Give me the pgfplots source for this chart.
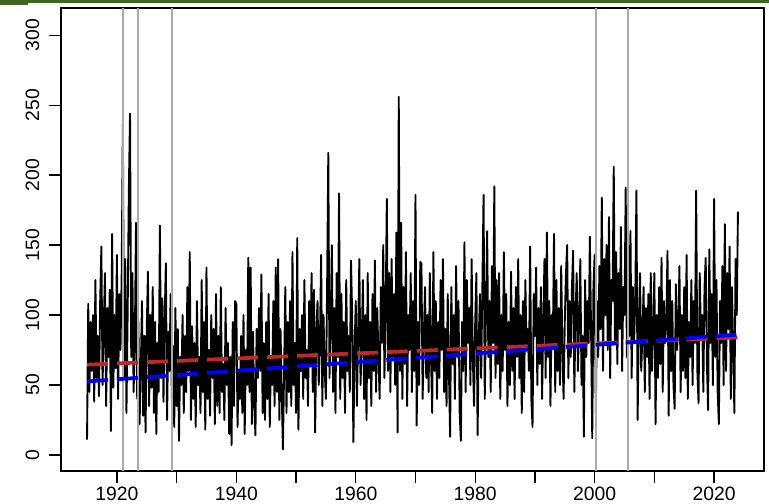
\documentclass[border=0pt]{standalone}
\usepackage{pgfplots}
\pgfplotsset{compat=1.18}
\usepackage{fontspec}
\setmainfont{Liberation Sans}
\definecolor{trendred}{RGB}{190,40,40}
\definecolor{trendblue}{RGB}{0,0,255}
\definecolor{vgrey}{RGB}{170,170,170}
\definecolor{slidegreen}{RGB}{62,102,32}
\begin{document}
\begin{tikzpicture}
\begin{axis}[
  scale only axis, width=527.25pt, height=347.25pt,
  xmin=1910.64, xmax=2028.36, ymin=-11.5, ymax=319.5,
  axis line style={line width=1pt},
  xtick={1920,1930,...,2020},
  xticklabels={1920,,1940,,1960,,1980,,2000,,2020},
  ytick={0,50,...,300},
  yticklabels={0,50,100,150,200,250,300},
  tick align=outside, major tick length=9pt,
  xtick pos=bottom, ytick pos=left,
  tick style={black, line width=1pt},
  ticklabel style={font=\fontsize{14.5}{16}\selectfont, inner sep=2.5pt},
  yticklabel style={rotate=90, anchor=south, inner ysep=7pt},
  clip=true,
]
\addplot[black, line width=1.4pt, line join=round] coordinates {
(1915.0,11)(1915.2,108)(1915.4,45)(1915.6,95)(1915.8,60)
(1916.0,100)(1916.2,38)(1916.4,125)(1916.6,55)(1916.8,85)
(1917.0,42)(1917.2,110)(1917.4,149)(1917.6,50)(1917.8,92)
(1918.0,130)(1918.2,35)(1918.4,105)(1918.6,70)(1918.8,118)
(1919.0,17)(1919.2,158)(1919.4,48)(1919.6,100)(1919.8,62)
(1920.0,143)(1920.2,40)(1920.4,115)(1920.6,75)(1920.8,128)
(1921.0,237)(1921.2,55)(1921.4,140)(1921.6,30)(1921.8,100)
(1922.0,189)(1922.2,244)(1922.4,70)(1922.6,130)(1922.8,45)
(1923.0,80)(1923.2,166)(1923.4,40)(1923.6,95)(1923.8,22)
(1924.0,60)(1924.2,110)(1924.4,28)(1924.6,85)(1924.8,16)
(1925.0,90)(1925.2,131)(1925.4,35)(1925.6,100)(1925.8,48)
(1926.0,120)(1926.2,30)(1926.4,95)(1926.6,15)(1926.8,80)
(1927.0,45)(1927.2,164)(1927.4,55)(1927.6,112)(1927.8,38)
(1928.0,98)(1928.2,137)(1928.4,25)(1928.6,88)(1928.8,60)
(1929.0,115)(1929.2,40)(1929.4,78)(1929.6,20)(1929.8,105)
(1930.0,35)(1930.2,90)(1930.4,10)(1930.6,70)(1930.8,50)
(1931.0,100)(1931.2,30)(1931.4,85)(1931.6,45)(1931.8,120)
(1932.0,60)(1932.2,145)(1932.4,25)(1932.6,92)(1932.8,40)
(1933.0,80)(1933.2,20)(1933.4,110)(1933.6,50)(1933.8,70)
(1934.0,30)(1934.2,125)(1934.4,45)(1934.6,95)(1934.8,18)
(1935.0,134)(1935.2,40)(1935.4,75)(1935.6,28)(1935.8,100)
(1936.0,55)(1936.2,90)(1936.4,22)(1936.6,115)(1936.8,35)
(1937.0,85)(1937.2,30)(1937.4,120)(1937.6,45)(1937.8,65)
(1938.0,25)(1938.2,105)(1938.4,50)(1938.6,80)(1938.8,15)
(1939.0,70)(1939.2,7)(1939.4,95)(1939.6,35)(1939.8,110)
(1940.0,108)(1940.2,20)(1940.4,60)(1940.6,40)(1940.8,85)
(1941.0,30)(1941.2,100)(1941.4,15)(1941.6,75)(1941.8,50)
(1942.0,141)(1942.2,45)(1942.4,134)(1942.6,22)(1942.8,88)
(1943.0,35)(1943.2,14)(1943.4,90)(1943.6,55)(1943.8,105)
(1944.0,60)(1944.2,129)(1944.4,30)(1944.6,80)(1944.8,25)
(1945.0,95)(1945.2,40)(1945.4,115)(1945.6,20)(1945.8,70)
(1946.0,50)(1946.2,110)(1946.4,35)(1946.6,134)(1946.8,45)
(1947.0,140)(1947.2,25)(1947.4,90)(1947.6,45)(1947.8,4)
(1948.0,60)(1948.2,120)(1948.4,30)(1948.6,95)(1948.8,45)
(1949.0,110)(1949.2,35)(1949.4,145)(1949.6,50)(1949.8,80)
(1950.0,30)(1950.2,155)(1950.4,18)(1950.6,90)(1950.8,60)
(1951.0,100)(1951.2,40)(1951.4,125)(1951.6,55)(1951.8,75)
(1952.0,35)(1952.2,110)(1952.4,65)(1952.6,130)(1952.8,45)
(1953.0,118)(1953.2,16)(1953.4,90)(1953.6,110)(1953.8,50)
(1954.0,80)(1954.2,143)(1954.4,35)(1954.6,100)(1954.8,60)
(1955.0,40)(1955.2,120)(1955.4,216)(1955.6,55)(1955.8,95)
(1956.0,150)(1956.2,45)(1956.4,105)(1956.6,30)(1956.8,130)
(1957.0,70)(1957.2,187)(1957.4,40)(1957.6,115)(1957.8,55)
(1958.0,95)(1958.2,30)(1958.4,125)(1958.6,60)(1958.8,85)
(1959.0,45)(1959.2,139)(1959.4,100)(1959.6,9)(1959.8,75)
(1960.0,110)(1960.2,35)(1960.4,90)(1960.6,140)(1960.8,50)
(1961.0,80)(1961.2,125)(1961.4,40)(1961.6,100)(1961.8,25)
(1962.0,130)(1962.2,55)(1962.4,95)(1962.6,35)(1962.8,115)
(1963.0,60)(1963.2,139)(1963.4,45)(1963.6,105)(1963.8,70)
(1964.0,40)(1964.2,120)(1964.4,80)(1964.6,150)(1964.8,55)
(1965.0,100)(1965.2,183)(1965.4,60)(1965.6,130)(1965.8,45)
(1966.0,140)(1966.2,70)(1966.4,115)(1966.6,50)(1966.8,159)
(1967.0,16)(1967.2,256)(1967.4,60)(1967.6,166)(1967.8,40)
(1968.0,120)(1968.2,65)(1968.4,145)(1968.6,35)(1968.8,100)
(1969.0,75)(1969.2,130)(1969.4,45)(1969.6,110)(1969.8,60)
(1970.0,186)(1970.2,21)(1970.4,95)(1970.6,50)(1970.8,138)
(1971.0,137)(1971.2,40)(1971.4,85)(1971.6,120)(1971.8,55)
(1972.0,100)(1972.2,45)(1972.4,130)(1972.6,70)(1972.8,30)
(1973.0,145)(1973.2,60)(1973.4,110)(1973.6,40)(1973.8,95)
(1974.0,55)(1974.2,125)(1974.4,75)(1974.6,140)(1974.8,45)
(1975.0,90)(1975.2,35)(1975.4,115)(1975.6,60)(1975.8,13)
(1976.0,120)(1976.2,65)(1976.4,100)(1976.6,40)(1976.8,135)
(1977.0,70)(1977.2,110)(1977.4,30)(1977.6,10)(1977.8,95)
(1978.0,60)(1978.2,152)(1978.4,45)(1978.6,125)(1978.8,80)
(1979.0,105)(1979.2,50)(1979.4,140)(1979.6,70)(1979.8,35)
(1980.0,95)(1980.2,130)(1980.4,14)(1980.6,85)(1980.8,115)
(1981.0,55)(1981.2,120)(1981.4,186)(1981.6,40)(1981.8,100)
(1982.0,160)(1982.2,70)(1982.4,110)(1982.6,45)(1982.8,135)
(1983.0,80)(1983.2,192)(1983.4,55)(1983.6,125)(1983.8,65)
(1984.0,130)(1984.2,40)(1984.4,100)(1984.6,60)(1984.8,145)
(1985.0,75)(1985.2,115)(1985.4,35)(1985.6,95)(1985.8,50)
(1986.0,131)(1986.2,60)(1986.4,105)(1986.6,40)(1986.8,120)
(1987.0,70)(1987.2,140)(1987.4,55)(1987.6,100)(1987.8,30)
(1988.0,110)(1988.2,45)(1988.4,125)(1988.6,75)(1988.8,90)
(1989.0,60)(1989.2,149)(1989.4,40)(1989.6,20)(1989.8,115)
(1990.0,85)(1990.2,134)(1990.4,50)(1990.6,105)(1990.8,65)
(1991.0,120)(1991.2,40)(1991.4,95)(1991.6,140)(1991.8,55)
(1992.0,159)(1992.2,70)(1992.4,110)(1992.6,35)(1992.8,100)
(1993.0,80)(1993.2,158)(1993.4,45)(1993.6,125)(1993.8,60)
(1994.0,105)(1994.2,50)(1994.4,135)(1994.6,75)(1994.8,40)
(1995.0,95)(1995.2,130)(1995.4,150)(1995.6,55)(1995.8,110)
(1996.0,70)(1996.2,120)(1996.4,146)(1996.6,45)(1996.8,100)
(1997.0,130)(1997.2,60)(1997.4,95)(1997.6,140)(1997.8,50)
(1998.0,85)(1998.2,13)(1998.4,125)(1998.6,70)(1998.8,110)
(1999.0,80)(1999.2,156)(1999.4,90)(1999.6,12)(1999.8,120)
(2000.0,143)(2000.2,30)(2000.4,110)(2000.6,70)(2000.8,135)
(2001.0,90)(2001.2,184)(2001.4,60)(2001.6,140)(2001.8,100)
(2002.0,150)(2002.2,75)(2002.4,170)(2002.6,55)(2002.8,125)
(2003.0,110)(2003.2,206)(2003.4,80)(2003.6,145)(2003.8,65)
(2004.0,130)(2004.2,90)(2004.4,163)(2004.6,60)(2004.8,120)
(2005.0,100)(2005.2,191)(2005.4,70)(2005.6,150)(2005.8,85)
(2006.0,160)(2006.2,55)(2006.4,120)(2006.6,80)(2006.8,110)
(2007.0,189)(2007.2,25)(2007.4,95)(2007.6,130)(2007.8,60)
(2008.0,85)(2008.2,120)(2008.4,45)(2008.6,105)(2008.8,70)
(2009.0,115)(2009.2,40)(2009.4,130)(2009.6,60)(2009.8,90)
(2010.0,130)(2010.2,22)(2010.4,100)(2010.6,55)(2010.8,120)
(2011.0,65)(2011.2,141)(2011.4,45)(2011.6,110)(2011.8,80)
(2012.0,95)(2012.2,146)(2012.4,28)(2012.6,125)(2012.8,60)
(2013.0,110)(2013.2,50)(2013.4,33)(2013.6,122)(2013.8,75)
(2014.0,90)(2014.2,135)(2014.4,45)(2014.6,100)(2014.8,60)
(2015.0,120)(2015.2,55)(2015.4,143)(2015.6,40)(2015.8,95)
(2016.0,70)(2016.2,125)(2016.4,50)(2016.6,110)(2016.8,80)
(2017.0,189)(2017.2,60)(2017.4,37)(2017.6,130)(2017.8,85)
(2018.0,100)(2018.2,45)(2018.4,120)(2018.6,141)(2018.8,65)
(2019.0,32)(2019.2,147)(2019.4,80)(2019.6,115)(2019.8,50)
(2020.0,183)(2020.2,70)(2020.4,125)(2020.6,45)(2020.8,22)
(2021.0,110)(2021.2,80)(2021.4,135)(2021.6,50)(2021.8,165)
(2022.0,60)(2022.2,130)(2022.4,90)(2022.6,149)(2022.8,40)
(2023.0,120)(2023.2,75)(2023.4,30)(2023.6,140)(2023.8,100)
(2024.0,174)
};
\addplot[vgrey, line width=1.1pt] coordinates {(1921.0,-11.5) (1921.0,319.5)};
\addplot[vgrey, line width=1.1pt] coordinates {(1923.55,-11.5) (1923.55,319.5)};
\addplot[vgrey, line width=1.1pt] coordinates {(1929.2,-11.5) (1929.2,319.5)};
\addplot[vgrey, line width=1.1pt] coordinates {(2000.2,-11.5) (2000.2,319.5)};
\addplot[vgrey, line width=1.1pt] coordinates {(2005.6,-11.5) (2005.6,319.5)};
\addplot[trendred, line width=2.8pt, dash pattern=on 15.75pt off 6.75pt] coordinates {(1915.0,64.5) (2024.0,84)};
\addplot[trendblue, line width=2.8pt, dash pattern=on 15.75pt off 6.75pt] coordinates {(1915.0,52.5) (2024.0,86)};
\end{axis}
\fill[slidegreen] (-45.75pt,350.75pt) rectangle (531pt,353.25pt);
\fill[slidegreen] (-45.75pt,349.5pt) rectangle (-24.75pt,353.25pt);
\pgfresetboundingbox
\path[use as bounding box] (-45.75pt,-24.75pt) rectangle (531pt,353.25pt);
\end{tikzpicture}
\end{document}
